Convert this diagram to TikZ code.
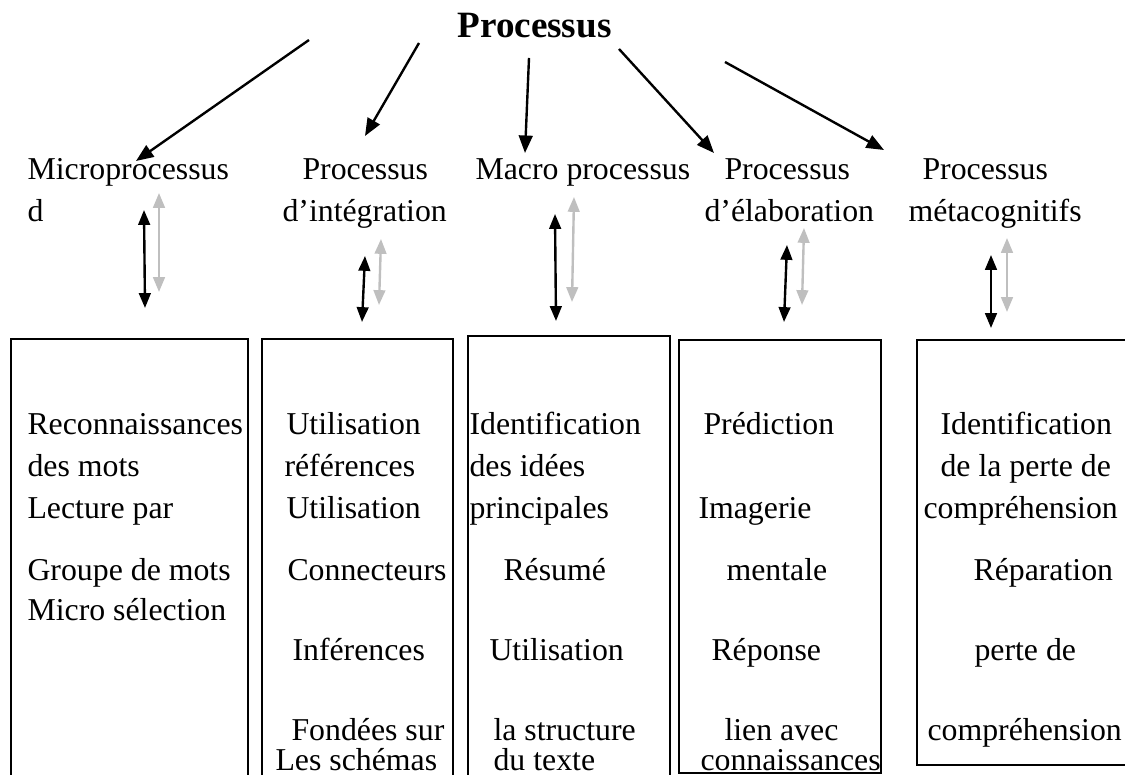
\documentclass[tikz,border=0pt]{standalone}
\usepackage{fontspec}
\setmainfont{Liberation Serif}
\usepackage{tikz}
\usetikzlibrary{positioning}
\usetikzlibrary{arrows.meta}
\tikzstyle{heading} = [font=\fontsize{14}{16}\selectfont\bfseries, anchor=base west, inner sep=0pt]
\tikzstyle{txt} = [font=\fontsize{12}{14}\selectfont, anchor=base west, inner sep=0pt]
\tikzstyle{box} = [draw, line width=0.6pt]
\tikzstyle{line} = [draw, line width=0.9pt, -{Triangle[length=6.6pt,width=5.2pt]}]
\tikzstyle{twoway} = [draw, line width=0.9pt, {Triangle[length=5.6pt,width=4.4pt]}-{Triangle[length=5.6pt,width=4.4pt]}]
\tikzstyle{greyway} = [twoway, black!25]

\begin{document}
\begin{tikzpicture}[x=0.01326cm, y=-0.01326cm]
        \useasboundingbox (0,0) rectangle (1125,775);
        \clip (0,0) rectangle (1125,775);
        % headings
        \node [heading] (top) at (457,38) {Processus};
        \node [txt] (h1a) at (27,180) {Microprocessus};
        \node [txt] (h1b) at (27,222) {d};
        \node [txt] (h2a) at (302,180) {Processus};
        \node [txt] (h2b) at (282,222) {d’intégration};
        \node [txt] (h3a) at (475,180) {Macro processus};
        \node [txt] (h4a) at (724,180) {Processus};
        \node [txt] (h4b) at (704,222) {d’élaboration};
        \node [txt] (h5a) at (922,180) {Processus};
        \node [txt] (h5b) at (908,222) {métacognitifs};
        % boxes
        \draw [box] (11,339) rectangle (248,800);
        \draw [box] (262,339) rectangle (453,800);
        \draw [box] (468,336) rectangle (670,800);
        \draw [box] (679,340) rectangle (881,773);
        \draw [box] (917,340) rectangle (1140,765);
        % box 1
        \node [txt] (m1) at (27,435) {Reconnaissances};
        \node [txt] (m2) at (27,477) {des mots};
        \node [txt] (m3) at (27,519) {Lecture par};
        \node [txt] (m4) at (27,581) {Groupe de mots};
        \node [txt] (m5) at (27,621) {Micro sélection};
        % box 2
        \node [txt] (i1) at (286,435) {Utilisation};
        \node [txt] (i2) at (284,477) {références};
        \node [txt] (i3) at (286,519) {Utilisation};
        \node [txt] (i4) at (287,581) {Connecteurs};
        \node [txt] (i5) at (292,661) {Inférences};
        \node [txt] (i6) at (291,741) {Fondées sur};
        \node [txt] (i7) at (275,771) {Les schémas};
        % box 3
        \node [txt] (g1) at (469,435) {Identification};
        \node [txt] (g2) at (469,477) {des idées};
        \node [txt] (g3) at (469,519) {principales};
        \node [txt] (g4) at (503,581) {Résumé};
        \node [txt] (g5) at (489,661) {Utilisation};
        \node [txt] (g6) at (493,741) {la structure};
        \node [txt] (g7) at (493,771) {du texte};
        % box 4
        \node [txt] (e1) at (703,435) {Prédiction};
        \node [txt] (e2) at (698,519) {Imagerie};
        \node [txt] (e3) at (726,581) {mentale};
        \node [txt] (e4) at (711,661) {Réponse};
        \node [txt] (e5) at (724,741) {lien avec};
        \node [txt] (e6) at (700,771) {connaissances};
        % box 5
        \node [txt] (c1) at (940,435) {Identification};
        \node [txt] (c2) at (940,477) {de la perte de};
        \node [txt] (c3) at (923,519) {compréhension};
        \node [txt] (c4) at (973,581) {Réparation};
        \node [txt] (c5) at (974,661) {perte de};
        \node [txt] (c6) at (927,741) {compréhension};
        % arrow ends
        \coordinate (s1) at (309,40);   \coordinate (e1a) at (136,161);
        \coordinate (s2) at (419,43);   \coordinate (e2a) at (365,136);
        \coordinate (s3) at (529,58);   \coordinate (e3a) at (525,153);
        \coordinate (s4) at (619,49);   \coordinate (e4a) at (714,153);
        \coordinate (s5) at (725,62);   \coordinate (e5a) at (884,150);
        \coordinate (k1t) at (144,210); \coordinate (k1b) at (145,308);
        \coordinate (l1t) at (159,193); \coordinate (l1b) at (159,292);
        \coordinate (k2t) at (365,256); \coordinate (k2b) at (362,322);
        \coordinate (l2t) at (381,239); \coordinate (l2b) at (379,305);
        \coordinate (k3t) at (555,214); \coordinate (k3b) at (556,321);
        \coordinate (l3t) at (574,197); \coordinate (l3b) at (572,302);
        \coordinate (k4t) at (787,245); \coordinate (k4b) at (784,322);
        \coordinate (l4t) at (804,228); \coordinate (l4b) at (802,305);
        \coordinate (k5t) at (991,255); \coordinate (k5b) at (991,328);
        \coordinate (l5t) at (1007,238); \coordinate (l5b) at (1007,312);
        % edges
        \path [line] (s1) -- (e1a);
        \path [line] (s2) -- (e2a);
        \path [line] (s3) -- (e3a);
        \path [line] (s4) -- (e4a);
        \path [line] (s5) -- (e5a);
        \path [twoway] (k1t) -- (k1b);
        \path [greyway] (l1t) -- (l1b);
        \path [twoway] (k2t) -- (k2b);
        \path [greyway] (l2t) -- (l2b);
        \path [twoway] (k3t) -- (k3b);
        \path [greyway] (l3t) -- (l3b);
        \path [twoway] (k4t) -- (k4b);
        \path [greyway] (l4t) -- (l4b);
        \path [twoway] (k5t) -- (k5b);
        \path [greyway] (l5t) -- (l5b);
    \end{tikzpicture}
\end{document}
